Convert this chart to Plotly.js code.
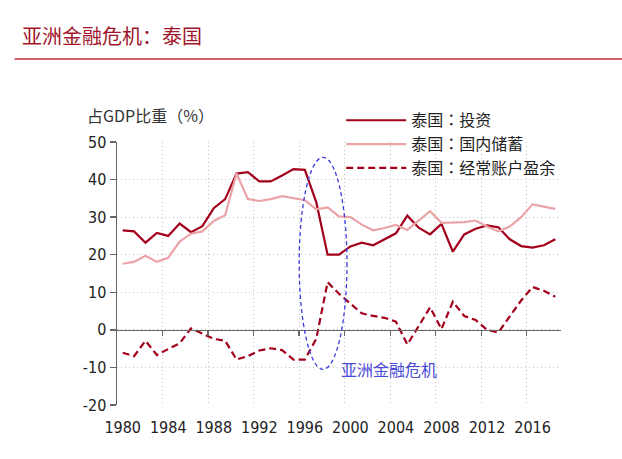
<!DOCTYPE html>
<html>
<head>
<meta charset="utf-8">
<script src="https://cdn.plot.ly/plotly-3.0.1.min.js"></script>
<style>html,body{margin:0;padding:0;background:#fff;}#chart{width:622px;height:459px;}</style>
</head>
<body>
<div id="chart"></div>
<script>
const years = [1980,1981,1982,1983,1984,1985,1986,1987,1988,1989,1990,1991,1992,1993,1994,1995,1996,1997,1998,1999,2000,2001,2002,2003,2004,2005,2006,2007,2008,2009,2010,2011,2012,2013,2014,2015,2016,2017,2018];
const investment = [26.5,26.2,23.2,25.8,25.0,28.3,26.0,27.6,32.4,34.8,41.6,42.0,39.5,39.5,41.1,42.8,42.6,34.0,20.0,20.0,22.2,23.2,22.5,24.0,25.7,30.4,27.2,25.4,28.2,20.8,25.4,26.9,27.8,27.3,24.1,22.3,21.9,22.5,24.1];
const savings = [17.6,18.1,19.7,18.1,19.2,23.5,25.6,26.2,29.0,30.5,41.6,34.8,34.3,34.8,35.6,35.0,34.5,32.1,32.6,30.2,30.0,28.0,26.5,27.1,27.9,26.6,29.0,31.6,28.5,28.5,28.7,29.1,27.5,26.2,27.5,30.0,33.4,32.8,32.2];
const currentAccount = [-6.1,-7.0,-2.9,-6.7,-5.1,-3.6,0.4,-0.9,-2.4,-2.9,-7.9,-7.0,-5.5,-4.9,-5.4,-7.9,-7.9,-2.4,12.7,9.6,7.0,4.4,3.7,3.2,2.2,-3.9,1.0,6.0,0.2,7.5,3.7,2.6,0.0,-0.7,3.6,7.8,11.4,10.4,8.8];
const seriesNames = ['泰国：投资','泰国：国内储蓄','泰国：经常账户盈余'];
const tickYears = [1980,1984,1988,1992,1996,2000,2004,2008,2012,2016];
const gridYears = [1983.5,1987.5,1991.5,1995.5,1999.5,2003.5,2007.5,2011.5,2015.5];
const yTicks = [-20,-10,0,10,20,30,40,50];
const yTickText = ['-20','-10','0','10','20','30','40','50'];
const chartTitle = '亚洲金融危机：泰国';
const yTitle = '占GDP比重（%）';
const crisisLabel = '亚洲金融危机';
const crisisYears = [1995.5, 1999.7];
const crisisRange = [-10.5, 45.9];

const NUMFONT = 'DejaVu Sans Condensed, DejaVu Sans, sans-serif';
const CJK = 'Noto Sans CJK SC, sans-serif';
const DARK = '#a3001c';
const PINK = '#eaa3a6';
const GRID = '#c2c2c2';
const AXIS = '#666666';

const traces = [
  {x: years, y: investment, name: seriesNames[0], mode: 'lines', line: {color: DARK, width: 2.2}, legendgroup: 'a'},
  {x: years, y: savings, name: seriesNames[1], mode: 'lines', line: {color: PINK, width: 2.2}, legendgroup: 'b'},
  {x: years, y: currentAccount, name: seriesNames[2], mode: 'lines', line: {color: DARK, width: 2.2, dash: '7px,4px'}, legendgroup: 'c'},
  {x: [years[0]], y: [null], xaxis: 'x2', mode: 'lines', showlegend: false, hoverinfo: 'skip'}
];

const layout = {
  width: 622, height: 459,
  margin: {l: 117, r: 61, t: 142, b: 54},
  paper_bgcolor: '#fff', plot_bgcolor: '#fff',
  font: {family: NUMFONT, size: 16, color: '#222'},
  title: {text: chartTitle, x: 22/622, xanchor: 'left', xref: 'container', y: 1 - 37/459, yanchor: 'middle', yref: 'container',
          font: {family: CJK, size: 20, color: '#a0152b'}},
  showlegend: true,
  legend: {x: 0.505, xanchor: 'left', y: 1.147, yanchor: 'top', bgcolor: 'rgba(0,0,0,0)', itemwidth: 60,
           font: {family: 'Noto Sans CJK TC, Noto Sans CJK SC, sans-serif', size: 16, color: '#222'}, traceorder: 'grouped', tracegroupgap: 0},
  xaxis: {range: [1979.5, 2018.5], tickvals: tickYears, ticktext: tickYears.map(String), showgrid: false, zeroline: false,
          showline: false, ticks: 'outside', ticklen: 8, tickcolor: 'rgba(0,0,0,0)', tickfont: {family: NUMFONT, size: 16, color: '#222'}},
  xaxis2: {overlaying: 'x', anchor: 'free', position: 20/70, range: [1979.5, 2018.5], tickvals: gridYears,
           showticklabels: false, showgrid: true, griddash: '1px,3px', gridcolor: GRID, gridwidth: 1,
           ticks: 'outside', ticklen: 5, tickcolor: AXIS, tickwidth: 1.3, showline: true, linecolor: AXIS, linewidth: 1.5, zeroline: false},
  yaxis: {range: [-20, 50], tickvals: yTicks, ticktext: yTickText, ticks: 'outside', ticklen: 6, tickcolor: AXIS, tickwidth: 1.3, showline: true,
          linecolor: AXIS, linewidth: 1.5, showgrid: true, griddash: '1px,3px', gridcolor: GRID, zeroline: false,
          tickfont: {family: NUMFONT, size: 16, color: '#222'}},
  shapes: [
    {type: 'circle', xref: 'x', yref: 'y', x0: crisisYears[0], x1: crisisYears[1], y0: crisisRange[0], y1: crisisRange[1],
     line: {color: '#3b3be0', width: 1.3, dash: '4px,3px'}},
    {type: 'line', xref: 'paper', yref: 'paper', x0: (14.7-117)/444, x1: (622-117)/444, y0: (405-59)/263, y1: (405-59)/263,
     line: {color: '#c4283a', width: 1.5}}
  ],
  annotations: [
    {text: yTitle, xref: 'paper', yref: 'paper', x: (85-117)/444, y: (405-115)/263, xanchor: 'left', yanchor: 'middle',
     showarrow: false, font: {family: CJK, size: 16, color: '#333'}},
    {text: crisisLabel, xref: 'x', yref: 'y', x: 1999.0, y: -10.5, xanchor: 'left', yanchor: 'middle',
     showarrow: false, font: {family: CJK, size: 16, color: '#4b4bd6'}}
  ]
};

Plotly.newPlot('chart', traces, layout, {displayModeBar: false, staticPlot: true});
</script>
</body>
</html>
